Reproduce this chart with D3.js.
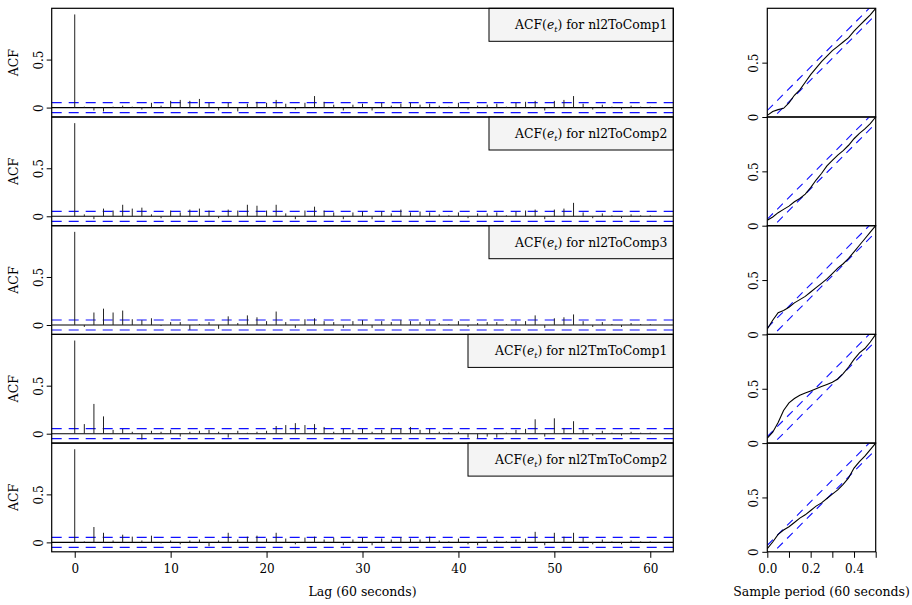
<!DOCTYPE html>
<html><head><meta charset="utf-8">
<script src="https://cdn.jsdelivr.net/npm/d3@7"></script>
<style>body{margin:0;background:#fff}svg{display:block}text{font-family:"DejaVu Serif",serif;fill:#000}</style>
</head><body><svg id="c" width="912" height="605"></svg>
<script>
const names = ["nl2ToComp1","nl2ToComp2","nl2ToComp3","nl2TmToComp1","nl2TmToComp2"];
const xTicksLag = [0,10,20,30,40,50,60];
const yTicks = [0,0.5];
const yTickLabels = ["0","0.5"];
const xTicksFreq = [0,0.1,0.2,0.3,0.4,0.5];
const xLabelsFreq = ["0.0","","0.2","","0.4",""];
const ciBand = 0.052;
const cpCrit = 0.06;

const acf1 = [0.97,0.01,-0.03,-0.04,0.01,0.02,0.01,-0.02,0.05,0.02,0.07,0.08,0.07,0.09,0.05,-0.03,0.05,-0.04,0.04,0.06,0.05,0.08,0.04,-0.02,0.05,0.12,0.06,0.03,-0.03,0.03,0.04,-0.03,0.05,0.02,0.04,0.05,0.03,0.04,0.02,0.01,0.05,-0.02,0.02,0.03,0.04,0.01,0.05,0.06,0.07,-0.03,0.07,0.08,0.12,0.04,-0.02,0.03,0.01,-0.02,0.02,0.01,0.01];
const acf2 = [0.97,0.02,-0.03,0.08,0.06,0.12,0.08,0.09,0.02,-0.02,0.06,0.04,0.07,0.08,0.06,-0.02,0.07,0.06,0.12,0.11,0.06,0.12,0.03,-0.03,0.06,0.1,0.06,0.04,-0.03,0.04,0.05,-0.03,0.05,0.03,0.07,0.04,0.05,0.04,0.02,0.01,0.04,-0.02,0.03,0.03,0.04,0.01,0.05,0.06,0.07,-0.03,0.07,0.08,0.14,0.04,-0.02,0.03,0.01,-0.02,0.02,0.01,0.01];
const acf3 = [0.97,-0.02,0.13,0.17,0.13,0.15,0.06,0.05,0.07,-0.01,0.03,0.03,-0.05,0.01,0.03,-0.04,0.09,0.02,0.1,0.08,0.04,0.14,0.03,-0.03,0.06,0.07,0.04,0.03,-0.03,0.04,0.05,-0.03,0.04,0.03,0.05,0.04,0.03,0.04,0.02,0.01,0.04,-0.02,0.02,0.03,0.03,0.01,0.04,0.04,0.1,-0.03,0.07,0.08,0.11,0.04,-0.02,0.03,0.01,-0.02,0.02,0.01,0.01];
const acf4 = [0.97,0.1,0.31,0.18,0.04,0.05,0.02,-0.06,0.03,0.02,0.04,-0.03,0.02,0.03,0.04,0.02,-0.04,0.03,0.01,0.02,0.03,0.08,0.09,0.11,0.09,0.1,0.07,0.02,0.05,0.04,0.05,0.02,0.04,0.06,0.05,0.07,0.04,0.05,0.02,0.01,0.02,-0.04,-0.05,-0.03,-0.04,0.01,0.04,0.05,0.15,-0.03,0.16,0.06,0.13,0.04,-0.02,0.03,0.01,-0.02,0.02,0.01,0.01];
const acf5 = [0.97,0.01,0.16,0.1,0.02,0.08,0.06,0.02,0.07,-0.01,0.02,-0.02,0.02,0.03,-0.04,0.02,0.1,0.03,0.06,0.07,0.04,0.1,0.04,-0.02,0.05,0.06,0.03,0.05,-0.03,0.03,0.05,-0.03,0.04,0.03,0.05,0.04,0.03,0.06,0.02,0.01,0.04,-0.02,-0.03,0.03,0.02,0.01,0.03,0.04,0.11,-0.03,0.1,0.06,0.1,0.05,-0.02,0.03,0.01,-0.02,0.02,0.01,0.01];
const acfs = [acf1,acf2,acf3,acf4,acf5];

const cpFreq = [0,0.025,0.05,0.075,0.1,0.125,0.15,0.175,0.2,0.225,0.25,0.275,0.3,0.325,0.35,0.375,0.4,0.425,0.45,0.475,0.5];
const cp1 = [0.015,0.05,0.068,0.08,0.13,0.2,0.25,0.32,0.39,0.45,0.51,0.56,0.61,0.65,0.69,0.73,0.79,0.84,0.89,0.94,1];
const cp2 = [0.05,0.08,0.12,0.15,0.18,0.22,0.25,0.29,0.35,0.42,0.48,0.55,0.6,0.65,0.69,0.74,0.8,0.85,0.89,0.94,1];
const cp3 = [0.05,0.13,0.2,0.22,0.25,0.29,0.32,0.35,0.39,0.43,0.47,0.51,0.56,0.61,0.65,0.7,0.76,0.82,0.88,0.94,1];
const cp4 = [0.046,0.1,0.19,0.3,0.37,0.41,0.44,0.46,0.48,0.5,0.52,0.54,0.56,0.59,0.64,0.7,0.77,0.83,0.87,0.93,1];
const cp5 = [0.03,0.09,0.16,0.2,0.23,0.27,0.31,0.34,0.38,0.42,0.45,0.49,0.53,0.57,0.62,0.68,0.77,0.83,0.88,0.94,1];
const cps = [cp1,cp2,cp3,cp4,cp5];

const svg = d3.select("#c");
const L = {x0:51.7, x1:673.3}, R = {x0:767.3, x1:875.7};
const top0 = 8.3, ph = 108.7;
const x = d3.scaleLinear().domain([-2.4,62.4]).range([L.x0,L.x1]);
const xf = d3.scaleLinear().domain([0,0.5]).range([R.x0,R.x1]);
const legendLeft = [489,489,489,468,468];
const BLUE = "#1010ff";

function styleYAxis(sel){
  sel.select(".domain").remove();
  sel.selectAll(".tick line").attr("stroke","#000");
  sel.selectAll("text").attr("font-size",12).attr("font-family","DejaVu Serif")
     .attr("transform","rotate(-90)").attr("x",0).attr("y",-9).attr("dy",0)
     .attr("text-anchor","middle");
}

names.forEach((nm,i)=>{
  const t = top0 + i*ph, b = t + ph;
  const y = d3.scaleLinear().domain([-0.098,1.034]).range([b,t]);
  const g = svg.append("g");
  [ciBand,-ciBand].forEach(v=>{
    g.append("line").attr("x1",L.x0).attr("x2",L.x1).attr("y1",y(v)).attr("y2",y(v))
     .attr("stroke",BLUE).attr("stroke-width",1.2).attr("stroke-dasharray","10,7");
  });
  g.append("line").attr("x1",L.x0).attr("x2",L.x1).attr("y1",y(0)).attr("y2",y(0)).attr("stroke","#000").attr("stroke-width",1.1);
  g.selectAll("line.sp").data(acfs[i]).join("line").attr("class","sp")
    .attr("x1",(d,k)=>x(k)).attr("x2",(d,k)=>x(k)).attr("y1",y(0)).attr("y2",d=>y(d))
    .attr("stroke","#222").attr("stroke-width",1);
  const lx = legendLeft[i];
  g.append("rect").attr("x",lx).attr("y",t).attr("width",L.x1-lx).attr("height",33)
    .attr("fill","#f4f4f4").attr("stroke","#000").attr("stroke-width",1);
  const tx = g.append("text").attr("x",L.x1-6).attr("y",t+21).attr("text-anchor","end").attr("font-size",12.4);
  tx.append("tspan").text("ACF(");
  tx.append("tspan").attr("font-style","italic").text("e");
  tx.append("tspan").attr("font-size",8).attr("font-style","italic").attr("dy",3).text("t");
  tx.append("tspan").attr("dy",-3).text(") for "+nm);
  g.append("rect").attr("x",L.x0).attr("y",t).attr("width",L.x1-L.x0).attr("height",ph).attr("fill","none").attr("stroke","#000").attr("stroke-width",1.2);
  const ya = g.append("g").attr("transform",`translate(${L.x0},0)`)
    .call(d3.axisLeft(y).tickValues(yTicks).tickSize(5).tickFormat((d,k)=>yTickLabels[k]));
  styleYAxis(ya);
  g.append("text").attr("transform",`translate(18,${(t+b)/2}) rotate(-90)`).attr("text-anchor","middle").attr("font-size",12.5).text("ACF");

  const yr = d3.scaleLinear().domain([0,1]).range([b,t]);
  const gr = svg.append("g");
  const clipId = "cl"+i;
  gr.append("clipPath").attr("id",clipId).append("rect").attr("x",R.x0).attr("y",t).attr("width",R.x1-R.x0).attr("height",ph);
  [cpCrit,-cpCrit].forEach(c=>{
    gr.append("line").attr("clip-path",`url(#${clipId})`).attr("x1",xf(0)).attr("x2",xf(0.5)).attr("y1",yr(c)).attr("y2",yr(1+c))
      .attr("stroke",BLUE).attr("stroke-width",1.1).attr("stroke-dasharray","8,6");
  });
  const line = d3.line().x((d,k)=>xf(cpFreq[k])).y(d=>yr(d));
  gr.append("path").attr("d",line(cps[i])).attr("fill","none").attr("stroke","#000").attr("stroke-width",1.1);
  gr.append("rect").attr("x",R.x0).attr("y",t).attr("width",R.x1-R.x0).attr("height",ph).attr("fill","none").attr("stroke","#000").attr("stroke-width",1.2);
  const yra = gr.append("g").attr("transform",`translate(${R.x0},0)`)
    .call(d3.axisLeft(yr).tickValues(yTicks).tickSize(5).tickFormat((d,k)=>yTickLabels[k]));
  styleYAxis(yra);
});

const bot = top0 + 5*ph;
const xa = svg.append("g").attr("transform",`translate(0,${bot})`).call(d3.axisBottom(x).tickValues(xTicksLag).tickSize(6).tickFormat(d3.format("d")));
xa.select(".domain").remove();
xa.selectAll("text").attr("font-size",12).attr("font-family","DejaVu Serif").attr("dy","1.0em");
svg.append("text").attr("x",(L.x0+L.x1)/2).attr("y",596).attr("text-anchor","middle").attr("font-size",12.5).text("Lag (60 seconds)");
const xfa = svg.append("g").attr("transform",`translate(0,${bot})`).call(d3.axisBottom(xf).tickValues(xTicksFreq).tickSize(6).tickFormat((d,k)=>xLabelsFreq[k]));
xfa.select(".domain").remove();
xfa.selectAll("text").attr("font-size",12).attr("font-family","DejaVu Serif").attr("dy","1.0em");
svg.append("text").attr("x",(R.x0+R.x1)/2).attr("y",596).attr("text-anchor","middle").attr("font-size",12.5).text("Sample period (60 seconds)");
</script></body></html>
